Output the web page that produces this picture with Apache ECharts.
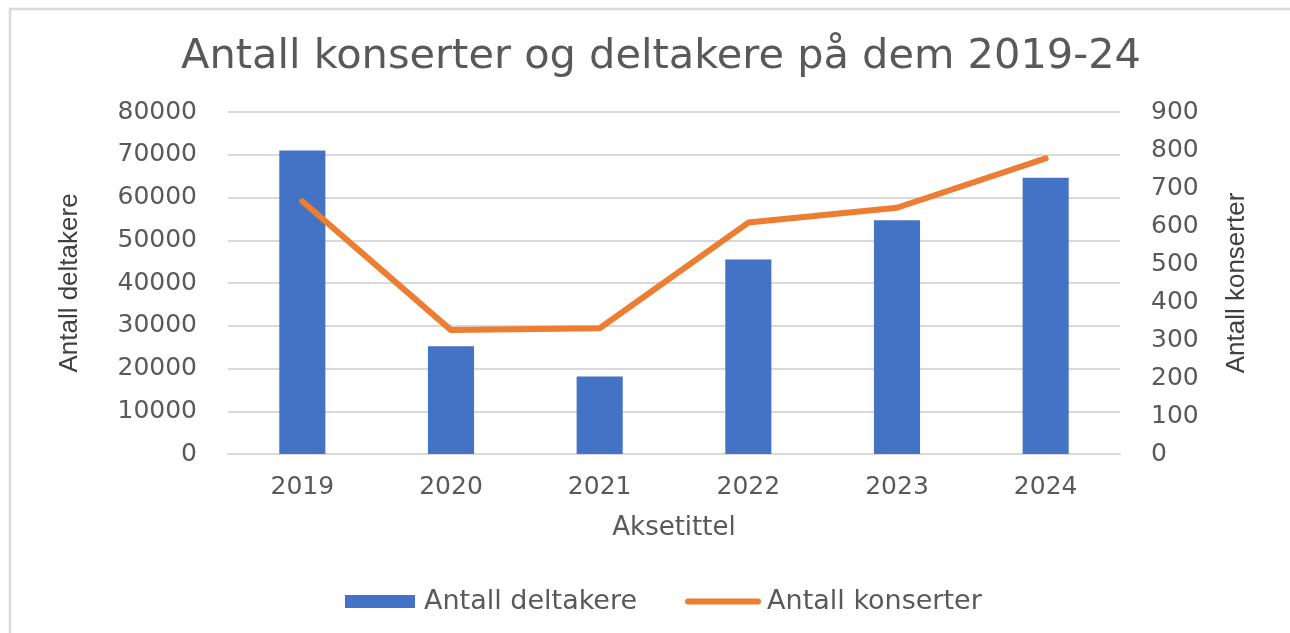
<!DOCTYPE html>
<html>
<head>
<meta charset="utf-8">
<script src="https://cdn.jsdelivr.net/npm/echarts@6/dist/echarts.min.js"></script>
<style>
  html, body { margin: 0; padding: 0; background: #fff; }
  #chart { width: 1290px; height: 633px; }
</style>
</head>
<body>
<div id="chart"></div>
<script>
const years = ["2019", "2020", "2021", "2022", "2023", "2024"];
const deltakere = [71000, 25200, 18100, 45500, 54700, 64600];
const konserter = [665, 326, 331, 609, 648, 778];

const chart = echarts.init(document.getElementById("chart"));
const textColor = "#595959";
const wideFont = "DejaVu Sans";
const narrowFont = "Liberation Sans";

chart.setOption({
  animation: false,
  backgroundColor: "#fff",
  graphic: [
    {
      type: "rect",
      shape: { x: 10, y: 9, width: 1400, height: 800 },
      style: { fill: "none", stroke: "#d9d9d9", lineWidth: 2.5 },
      silent: true
    }
  ],
  title: {
    text: "Antall konserter og deltakere på dem 2019-24",
    left: 176,
    top: 31,
    textStyle: { fontFamily: wideFont, fontSize: 41.5, fontWeight: "normal", color: textColor }
  },
  grid: { left: 228, right: 170, top: 112, bottom: 179 },
  legend: {
    bottom: 13,
    left: 340,
    itemWidth: 70,
    itemHeight: 13,
    itemGap: 48,
    data: [
      { name: "Antall deltakere", icon: "rect" },
      {
        name: "Antall konserter",
        itemStyle: { opacity: 0 },
        lineStyle: { width: 6, cap: "round" }
      }
    ],
    textStyle: { fontFamily: wideFont, fontSize: 27, color: textColor, padding: [0, 0, 0, 4] }
  },
  xAxis: {
    type: "category",
    data: years,
    name: "Aksetittel",
    nameLocation: "middle",
    nameGap: 61,
    nameTextStyle: { fontFamily: wideFont, fontSize: 26, color: textColor },
    axisLine: { lineStyle: { color: "#d9d9d9", width: 2 } },
    axisTick: { show: false },
    axisLabel: { margin: 21, fontFamily: wideFont, fontSize: 25, color: textColor }
  },
  yAxis: [
    {
      type: "value",
      min: 0,
      max: 80000,
      interval: 10000,
      name: "Antall deltakere",
      nameLocation: "middle",
      nameRotate: 90,
      nameGap: 158,
      nameTextStyle: { fontFamily: narrowFont, fontSize: 26, color: "#404040", verticalAlign: "middle" },
      axisLine: { show: false },
      axisTick: { show: false },
      axisLabel: { margin: 31, fontFamily: wideFont, fontSize: 25, color: textColor, formatter: v => String(v) },
      splitLine: { lineStyle: { color: "#d9d9d9", width: 2 } }
    },
    {
      type: "value",
      min: 0,
      max: 900,
      interval: 100,
      name: "Antall konserter",
      nameLocation: "middle",
      nameRotate: 90,
      nameGap: 117,
      nameTextStyle: { fontFamily: narrowFont, fontSize: 26, color: "#404040", verticalAlign: "middle" },
      axisLine: { show: false },
      axisTick: { show: false },
      axisLabel: { margin: 31, fontFamily: wideFont, fontSize: 25, color: textColor, formatter: v => String(v) },
      splitLine: { show: false }
    }
  ],
  series: [
    {
      name: "Antall deltakere",
      type: "bar",
      yAxisIndex: 0,
      data: deltakere,
      barWidth: "31%",
      itemStyle: { color: "#4472C4" }
    },
    {
      name: "Antall konserter",
      type: "line",
      yAxisIndex: 1,
      data: konserter,
      symbol: "none",
      z: 5,
      lineStyle: { color: "#ED7D31", width: 6, cap: "round", join: "round" },
      itemStyle: { color: "#ED7D31" }
    }
  ]
});
</script>
</body>
</html>
